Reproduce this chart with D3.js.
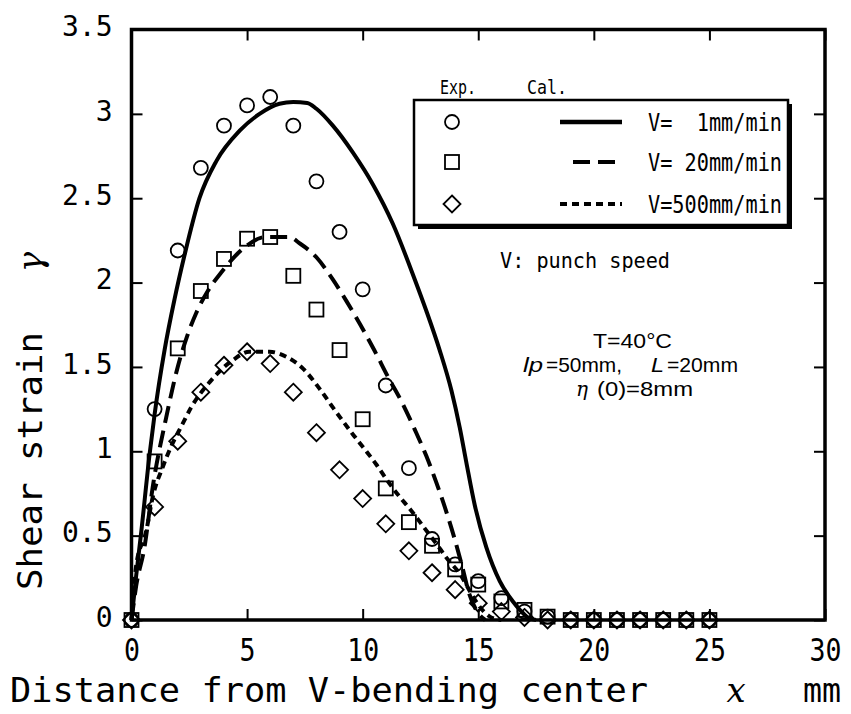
<!DOCTYPE html>
<html>
<head>
<meta charset="utf-8">
<script src="https://cdn.jsdelivr.net/npm/d3@7"></script>
<style>
  body { margin: 0; background: #fff; }
  text { fill: #000; }
</style>
</head>
<body>
<svg id="chart" width="851" height="714"></svg>
<script>
// Axis ticks
const xTicks = [0, 5, 10, 15, 20, 25, 30];
const yTicks = [0, 0.5, 1, 1.5, 2, 2.5, 3, 3.5];

// Experimental shear strain, measured at x = 0 … 25 mm
const expX = [0, 1, 2, 3, 4, 5, 6, 7, 8, 9, 10, 11, 12, 13, 14, 15, 16, 17, 18, 19, 20, 21, 22, 23, 24, 25];
const expV1   = [0, 1.25, 2.19, 2.68, 2.93, 3.05, 3.10, 2.93, 2.60, 2.30, 1.96, 1.39, 0.90, 0.48, 0.33, 0.23, 0.13, 0.05, 0.02, 0, 0, 0, 0, 0, 0, 0];
const expV20  = [0, 0.94, 1.61, 1.95, 2.14, 2.26, 2.27, 2.04, 1.84, 1.60, 1.19, 0.78, 0.58, 0.44, 0.30, 0.21, 0.11, 0.06, 0.02, 0, 0, 0, 0, 0, 0, 0];
const expV500 = [0, 0.67, 1.06, 1.35, 1.51, 1.59, 1.52, 1.35, 1.11, 0.89, 0.72, 0.57, 0.41, 0.28, 0.18, 0.10, 0.05, 0.015, 0, 0, 0, 0, 0, 0, 0, 0];

// Calculated curves: [x, gamma]
const calV1 = [[0,0],[0.2,0.26],[0.42,0.52],[0.78,0.98],[1.0,1.22],[1.43,1.60],[1.86,1.90],[2.29,2.16],[2.94,2.50],[3.67,2.72],[4.68,2.90],[5.54,3.00],[6.4,3.06],[7.0,3.07],[7.6,3.065],[8.0,3.03],[8.71,2.93],[9.58,2.77],[10.45,2.58],[11.3,2.35],[12.25,2.02],[12.76,1.83],[13.33,1.60],[13.84,1.36],[14.2,1.14],[14.49,0.93],[14.85,0.68],[15.35,0.43],[15.93,0.23],[16.5,0.11],[16.87,0.05],[17.2,0.01],[17.5,0]];
const calV20 = [[0,0],[0.2,0.2],[0.56,0.43],[0.92,0.79],[1.5,1.2],[2.0,1.5],[2.4,1.68],[2.8,1.82],[3.3,1.95],[3.88,2.06],[4.82,2.20],[5.8,2.27],[6.8,2.27],[7.3,2.23],[8.0,2.15],[8.7,2.02],[9.3,1.89],[9.9,1.75],[10.5,1.60],[11.1,1.44],[11.7,1.29],[12.25,1.13],[12.76,0.97],[13.2,0.81],[13.6,0.65],[14.0,0.47],[14.3,0.32],[14.6,0.16],[15.0,0.04],[15.3,0]];
const calV500 = [[0,0],[0.2,0.32],[0.64,0.53],[0.92,0.73],[1.36,0.91],[1.72,1.03],[2.22,1.165],[2.58,1.26],[3.38,1.41],[4.38,1.54],[5.1,1.59],[5.97,1.59],[6.7,1.56],[7.42,1.49],[8.14,1.37],[8.71,1.26],[9.58,1.10],[10.16,1.00],[10.6,0.92],[11.1,0.82],[11.6,0.73],[12.03,0.66],[12.4,0.595],[12.7,0.54],[13.2,0.45],[13.62,0.37],[14.27,0.26],[14.6,0.18],[15.0,0.09],[15.5,0.02],[16.0,0]];

const legendLabels = ["V=  1mm/min", "V= 20mm/min", "V=500mm/min"];
const markerTypes = ["circle", "square", "diamond"];
const dashPatterns = [null, "17 8", "7 5"];

const svg = d3.select("#chart");
const monoFont = "'DejaVu Sans Mono', 'Liberation Mono', monospace";
const narrowFont = "'Liberation Sans Narrow', 'Arial Narrow', 'Liberation Sans', sans-serif";
const serifFont = "'DejaVu Serif', 'Liberation Serif', serif";

const x = d3.scaleLinear().domain([0, 30]).range([131.5, 825]);
const y = d3.scaleLinear().domain([0, 3.5]).range([620, 29.5]);

// Tick marks (pointing inward on all four sides)
const gx = svg.append("g").attr("transform", `translate(0,${y(0)})`)
  .call(d3.axisBottom(x).tickValues(xTicks).tickSize(-11).tickPadding(18).tickFormat(d3.format("d")));
const gy = svg.append("g").attr("transform", `translate(${x(0)},0)`)
  .call(d3.axisLeft(y).tickValues(yTicks).tickSize(-11).tickPadding(19).tickFormat(d => d));
svg.append("g").attr("transform", `translate(0,${y(3.5)})`)
  .call(d3.axisTop(x).tickValues(xTicks).tickSize(-11).tickFormat(""));
svg.append("g").attr("transform", `translate(${x(30)},0)`)
  .call(d3.axisRight(y).tickValues(yTicks).tickSize(-11).tickFormat(""));

svg.selectAll(".domain").remove();
svg.selectAll(".tick line").attr("stroke", "#000").attr("stroke-width", 2);

gx.selectAll(".tick text")
  .attr("font-family", monoFont).attr("font-size", 32)
  .attr("transform", "scale(0.83,1)");
gy.selectAll(".tick text")
  .attr("font-family", monoFont).attr("font-size", 28).attr("dy", "0.22em");

// Plot frame
svg.append("rect")
  .attr("x", x(0)).attr("y", y(3.5))
  .attr("width", x(30) - x(0)).attr("height", y(0) - y(3.5))
  .attr("fill", "none").attr("stroke", "#000").attr("stroke-width", 3.5);

// Calculated curves
const line = d3.line().x(d => x(d[0])).y(d => y(d[1])).curve(d3.curveMonotoneX);
[calV1, calV20, calV500].forEach((s, i) => {
  svg.append("path").datum(s)
    .attr("d", line)
    .attr("fill", "none").attr("stroke", "#000").attr("stroke-width", 4)
    .attr("stroke-dasharray", dashPatterns[i]);
});

// Markers
function drawMarker(g, type, cx, cy) {
  if (type === "circle") {
    g.append("circle").attr("cx", cx).attr("cy", cy).attr("r", 7);
  } else if (type === "square") {
    g.append("rect").attr("x", cx - 7).attr("y", cy - 7).attr("width", 14).attr("height", 14);
  } else {
    g.append("path").attr("d", `M${cx},${cy - 8.5}L${cx + 8.5},${cy}L${cx},${cy + 8.5}L${cx - 8.5},${cy}Z`);
  }
}
const markerG = svg.append("g").attr("fill", "none").attr("stroke", "#000").attr("stroke-width", 1.8);
[expV1, expV20, expV500].forEach((vals, i) => {
  vals.forEach((v, j) => drawMarker(markerG, markerTypes[i], x(expX[j]), y(v)));
});

// Legend
const lg = svg.append("g");
lg.append("rect").attr("x", 418).attr("y", 104).attr("width", 374).attr("height", 125).attr("fill", "#000");
lg.append("rect").attr("x", 414).attr("y", 100).attr("width", 374).attr("height", 125)
  .attr("fill", "#fff").attr("stroke", "#000").attr("stroke-width", 2.5);
lg.append("text").attr("x", 440).attr("y", 94).attr("font-family", monoFont).attr("font-size", 20)
  .attr("textLength", 36).attr("lengthAdjust", "spacingAndGlyphs").text("Exp.");
lg.append("text").attr("x", 527).attr("y", 94).attr("font-family", monoFont).attr("font-size", 20)
  .attr("textLength", 40).attr("lengthAdjust", "spacingAndGlyphs").text("Cal.");
const rowY = [122, 162, 204];
const legMarkers = lg.append("g").attr("fill", "none").attr("stroke", "#000").attr("stroke-width", 1.8);
legendLabels.forEach((lab, i) => {
  drawMarker(legMarkers, markerTypes[i], 452, rowY[i]);
  lg.append("line").attr("x1", i === 1 ? 573 : 560).attr("x2", 622)
    .attr("y1", rowY[i]).attr("y2", rowY[i])
    .attr("stroke", "#000").attr("stroke-width", i === 0 ? 4.5 : 4)
    .attr("stroke-dasharray", dashPatterns[i]);
  lg.append("text").attr("x", 648).attr("y", rowY[i] + 9)
    .attr("font-family", monoFont).attr("font-size", 24)
    .attr("xml:space", "preserve").style("white-space", "pre")
    .attr("textLength", 134).attr("lengthAdjust", "spacingAndGlyphs")
    .text(lab);
});

// Annotations
svg.append("text").attr("x", 500).attr("y", 268)
  .attr("font-family", monoFont).attr("font-size", 22)
  .attr("xml:space", "preserve").style("white-space", "pre")
  .attr("textLength", 170).attr("lengthAdjust", "spacingAndGlyphs")
  .text("V: punch speed");

const ann = svg.append("g").attr("font-family", narrowFont).attr("font-size", 21);
function annText(tx, ty, str, len, opts = {}) {
  const t = ann.append("text").attr("x", tx).attr("y", ty)
    .attr("textLength", len).attr("lengthAdjust", "spacingAndGlyphs").text(str);
  if (opts.italic) t.attr("font-style", "italic");
  if (opts.font) t.attr("font-family", opts.font);
  return t;
}
annText(593, 348, "T=40°C", 79);
annText(523, 372, "lp", 20, { italic: true });
annText(546, 372, "=50mm,", 76);
annText(651, 372, "L", 13, { italic: true });
annText(667, 372, "=20mm", 71);
annText(576, 396, "η", 12, { italic: true, font: serifFont });
annText(597, 396, "(0)=8mm", 96);

// Axis titles
svg.append("text").attr("x", 10).attr("y", 702)
  .attr("font-family", monoFont).attr("font-size", 34)
  .attr("textLength", 638).attr("lengthAdjust", "spacingAndGlyphs")
  .text("Distance from V-bending center");
svg.append("text").attr("x", 736).attr("y", 702).attr("text-anchor", "middle")
  .attr("font-family", serifFont).attr("font-style", "italic").attr("font-size", 34)
  .text("x");
svg.append("text").attr("x", 803).attr("y", 702)
  .attr("font-family", monoFont).attr("font-size", 34)
  .attr("textLength", 38).attr("lengthAdjust", "spacingAndGlyphs")
  .text("mm");

const yl = svg.append("g").attr("transform", "translate(42,0) rotate(-90)");
yl.append("text").attr("x", -590).attr("y", 0)
  .attr("font-family", monoFont).attr("font-size", 34)
  .attr("textLength", 258).attr("lengthAdjust", "spacingAndGlyphs")
  .text("Shear strain");
yl.append("text").attr("x", -262).attr("y", 0).attr("text-anchor", "middle")
  .attr("font-family", serifFont).attr("font-style", "italic").attr("font-size", 34)
  .text("γ");
</script>
</body>
</html>
